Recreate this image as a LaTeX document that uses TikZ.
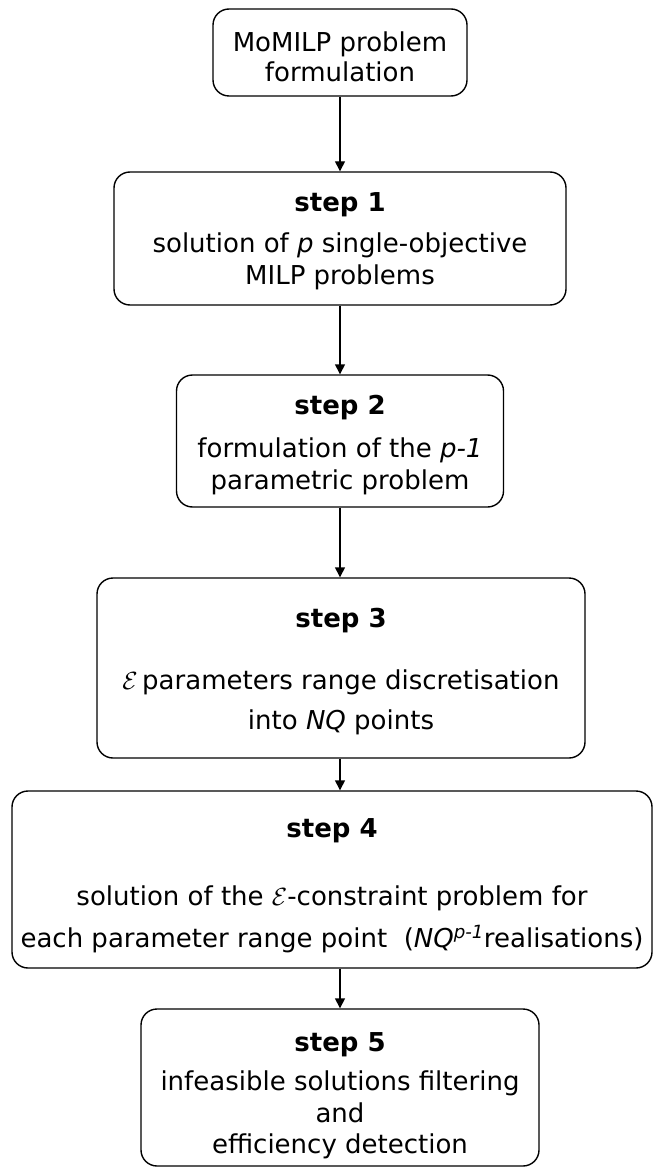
\documentclass[tikz,border=0pt]{standalone}
\usepackage{fontspec}
\setmainfont{DejaVu Sans}
\usetikzlibrary{arrows.meta}

\tikzset{
  stepbox/.style={draw, line width=1.4pt, rounded corners=16pt, inner sep=0pt},
  steptext/.style={align=center, inner sep=0pt, font=\fontsize{26}{31}\selectfont},
  flow/.style={-{Triangle[length=10pt,width=10pt]}, line width=1.4pt},
}
\newcommand{\steptitle}[1]{{\bfseries #1}}
\newcommand{\eps}{$\mathcal{E}$}

\begin{document}
\begin{tikzpicture}[x=1pt,y=-1pt]
  \useasboundingbox (0,0) rectangle (656,1174);

  \node[stepbox, minimum width=254pt, minimum height=87pt,
        label={[steptext, yshift=-4pt]center:{MoMILP problem\\[-1pt]formulation}}]
    (b0) at (340,52.5) {};

  \node[stepbox, minimum width=452pt, minimum height=133pt,
        label={[steptext, yshift=-3pt]center:{\steptitle{step 1}\\[10pt]
          solution of \textit{p} single-objective\\[1pt]
          MILP problems}}]
    (b1) at (340,238.5) {};

  \node[stepbox, minimum width=327pt, minimum height=132pt,
        label={[steptext, yshift=-4pt]center:{\steptitle{step 2}\\[12pt]
          formulation of the \textit{p-1}\\[1pt]
          parametric problem}}]
    (b2) at (340,441) {};

  \node[stepbox, minimum width=488pt, minimum height=180pt,
        label={[steptext, yshift=-4pt]center:{\steptitle{step 3}\\[31pt]
          \eps\,parameters range discretisation\\[9pt]
          into \textit{NQ} points}}]
    (b3) at (341,668) {};

  \node[stepbox, minimum width=640pt, minimum height=177pt,
        label={[steptext, yshift=-6pt]center:{\steptitle{step 4}\\[37pt]
          solution of the \eps-constraint problem for\\[11pt]
          each parameter range point\ \ (\textit{NQ}\textsuperscript{\textit{p-1}}realisations)}}]
    (b4) at (332,879.5) {};

  \node[stepbox, minimum width=398pt, minimum height=157pt,
        label={[steptext, yshift=-8pt]center:{\steptitle{step 5}\\[8pt]
          infeasible solutions filtering\\[1pt]
          and\\
          efficiency detection}}]
    (b5) at (340,1087.5) {};

  \draw[flow] (b0.south) -- (b1.north);
  \draw[flow] (b1.south) -- (b1.south |- b2.north);
  \draw[flow] (b1.south |- b2.south) -- (b1.south |- b3.north);
  \draw[flow] (b1.south |- b3.south) -- (b1.south |- b4.north);
  \draw[flow] (b1.south |- b4.south) -- (b1.south |- b5.north);
\end{tikzpicture}
\end{document}
